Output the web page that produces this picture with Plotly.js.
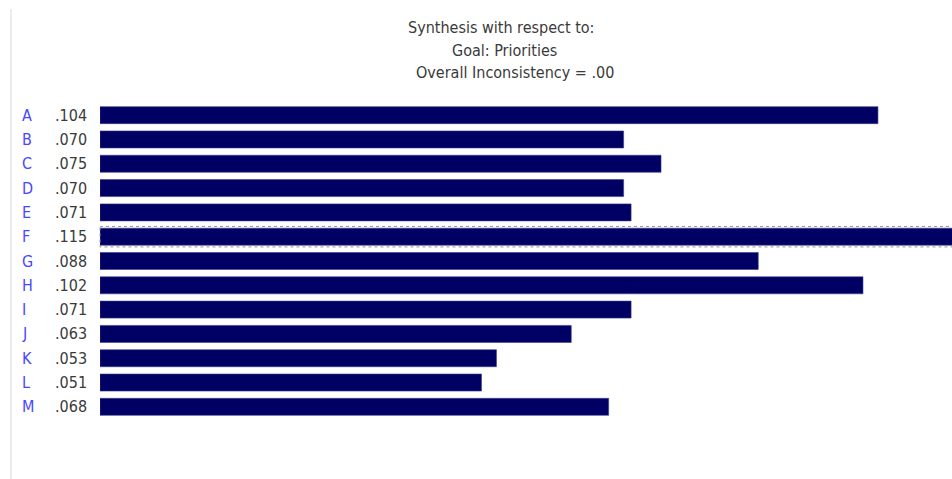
<!DOCTYPE html>
<html>
<head>
<meta charset="utf-8">
<script src="https://cdn.plot.ly/plotly-3.0.1.min.js"></script>
<style>html,body{margin:0;padding:0;background:#fff;}#chart{width:952px;height:479px;}</style>
</head>
<body>
<div id="chart"></div>
<script>
const categories = ["A","B","C","D","E","F","G","H","I","J","K","L","M"];
const priorities = [0.104,0.070,0.075,0.070,0.071,0.115,0.088,0.102,0.071,0.063,0.053,0.051,0.068];
const valueLabels = [".104",".070",".075",".070",".071",".115",".088",".102",".071",".063",".053",".051",".068"];
const titleLines = ["Synthesis with respect to:","Goal: Priorities","Overall Inconsistency = .00"];
const selectedCategory = "F";

const W = 952, H = 479, L = 100, T = 103, B = 60;
const plotW = W - L, plotH = H - T - B;
const px2x = p => (p - L) / plotW;
const py2y = p => (H - B - p) / plotH;
const FONT = "'Liberation Sans Narrow', 'Arial Narrow', 'DejaVu Sans Condensed', sans-serif";

const annotations = [];
categories.forEach((c, i) => {
  annotations.push({xref:'paper', yref:'y', x: px2x(20), y: c, text: c, showarrow:false,
    xanchor:'left', yanchor:'middle', font:{family:FONT, size:16, color:'#4848ff'}});
  annotations.push({xref:'paper', yref:'y', x: px2x(89), y: c, text: valueLabels[i], showarrow:false,
    xanchor:'right', yanchor:'middle', font:{family:FONT, size:16, color:'#3a3a3a'}});
});
const titleX = [501, 504, 515], titleY = [27, 50, 73];
titleLines.forEach((t, i) => {
  annotations.push({xref:'paper', yref:'paper', x: px2x(titleX[i]), y: py2y(titleY[i]), text: t, showarrow:false,
    xanchor:'center', yanchor:'middle', font:{family:FONT, size:16, color:'#3a3a3a'}});
});

const selIdx = categories.indexOf(selectedCategory);
const shapes = [
  {type:'line', xref:'paper', yref:'paper', x0:px2x(11), x1:px2x(11), y0:py2y(9), y1:py2y(479),
   line:{color:'#ececec', width:2}},
  {type:'rect', xref:'paper', yref:'y', x0:0, x1:1.01, y0:selIdx-0.42, y1:selIdx+0.42,
   line:{color:'#999', width:1, dash:'dot'}, fillcolor:'rgba(0,0,0,0)'}
];

Plotly.newPlot('chart', [{
  type:'bar', orientation:'h', x: priorities, y: categories,
  marker:{color:'#000064', line:{color:'#3a3a8a', width:0.6}},
  width: 0.7, hoverinfo:'none'
}], {
  width: W, height: H,
  margin:{l:L, r:0, t:T, b:B, pad:0},
  paper_bgcolor:'#fff', plot_bgcolor:'#fff',
  showlegend:false,
  xaxis:{range:[0, 0.1139], visible:false, fixedrange:true},
  yaxis:{autorange:'reversed', showticklabels:false, showgrid:false, zeroline:false, showline:false, ticks:'', fixedrange:true},
  annotations: annotations,
  shapes: shapes
}, {displayModeBar:false, staticPlot:true});
</script>
</body>
</html>
